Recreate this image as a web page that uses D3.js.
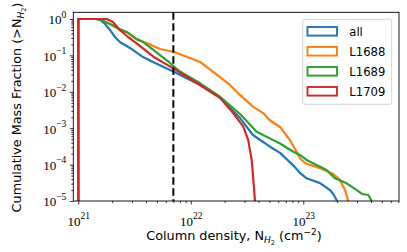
<!DOCTYPE html>
<html><head><meta charset="utf-8">
<script src="https://cdn.jsdelivr.net/npm/d3@7"></script>
<style>body{margin:0;background:#fff}svg{display:block}</style>
</head><body>
<svg id="c" width="407" height="252"></svg>
<script>
// ---- data ----
const seriesNames = ["all", "L1688", "L1689", "L1709"];
const seriesColors = ["#1f77b4", "#ff7f0e", "#2ca02c", "#d62728"];

const allN = [1e21, 1e21, 1.41e21, 1.56e21, 1.73e21, 1.91e21, 2.12e21, 2.34e21, 2.88e21, 3.76e21, 4.81e21, 6.98e21, 1.21e22, 1.82e22, 2.74e22, 3.57e22, 5.06e22, 6.21e22, 8.09e22, 9.35e22, 1.07e23, 1.41e23, 1.73e23, 1.87e23, 2.0e23];
const allF = [1e-6, 1, 1, 0.94, 0.73, 0.50, 0.32, 0.233, 0.16, 0.090, 0.062, 0.036, 0.0154, 0.0068, 0.0019, 6.5e-4, 3.1e-4, 2.1e-4, 9.7e-5, 5.9e-5, 4.2e-5, 3.1e-5, 2.0e-5, 1.46e-5, 1e-5];

const l1688N = [1e21, 1e21, 1.45e21, 1.56e21, 1.91e21, 2.34e21, 2.69e21, 3.30e21, 3.79e21, 4.06e21, 5.32e21, 6.98e21, 9.84e21, 1.21e22, 1.58e22, 2.23e22, 2.74e22, 3.57e22, 4.41e22, 5.01e22, 6.21e22, 7.62e22, 8.73e22, 9.35e22, 1.04e23, 1.41e23, 1.85e23, 2.12e23, 2.35e23, 2.51e23];
const l1688F = [1e-6, 1, 1, 0.97, 0.73, 0.52, 0.44, 0.28, 0.233, 0.22, 0.15, 0.126, 0.085, 0.066, 0.035, 0.0154, 0.0082, 0.0039, 0.0026, 0.00168, 0.00108, 4.7e-4, 2.26e-4, 1.49e-4, 1.09e-4, 7.9e-5, 5.5e-5, 3.8e-5, 2.0e-5, 1e-5];

const l1689N = [1e21, 1e21, 1.45e21, 1.56e21, 1.91e21, 2.34e21, 2.69e21, 3.30e21, 3.78e21, 4.65e21, 5.32e21, 6.53e21, 6.98e21, 8.02e21, 1.21e22, 1.82e22, 2.74e22, 3.85e22, 5.41e22, 6.21e22, 8.15e22, 9.35e22, 1.07e23, 1.41e23, 1.61e23, 1.91e23, 2.43e23, 2.99e23, 3.33e23, 3.78e23, 4.06e23];
const l1689F = [1e-6, 1, 1, 0.97, 0.73, 0.52, 0.44, 0.28, 0.233, 0.141, 0.102, 0.062, 0.051, 0.036, 0.0171, 0.0073, 0.00245, 8.0e-4, 4.7e-4, 3.8e-4, 2.26e-4, 1.84e-4, 1.34e-4, 8.7e-5, 7.1e-5, 4.2e-5, 3.06e-5, 2.0e-5, 1.56e-5, 1.46e-5, 1e-5];

const l1709N = [1e21, 1e21, 1.79e21, 2.03e21, 2.34e21, 2.77e21, 3.30e21, 4.65e21, 6.98e21, 1.21e22, 1.82e22, 2.39e22, 2.93e22, 3.24e22, 3.48e22, 3.60e22, 3.72e22];
const l1709F = [1e-6, 1, 1, 0.83, 0.50, 0.32, 0.215, 0.092, 0.044, 0.0154, 0.0068, 0.00256, 0.0011, 4.7e-4, 1.34e-4, 3.8e-5, 1e-5];

const threshold = 7e21;
const xTicks = [1e21, 1e22, 1e23];
const xTickExp = ["21", "22", "23"];
const yTicks = [1e0, 1e-1, 1e-2, 1e-3, 1e-4, 1e-5];
const yTickExp = ["0", "\u22121", "\u22122", "\u22123", "\u22124", "\u22125"];

// ---- layout ----
const svg = d3.select("#c");
const L = 73.3, R = 399, T = 12.3, B = 201;
const x = d3.scaleLog().domain([Math.pow(10, 20.9556), Math.pow(10, 23.851)]).range([L, R]);
const y = d3.scaleLog().domain([1e-5, Math.pow(10, 0.184)]).range([B, T]);

svg.append("clipPath").attr("id", "clip").append("rect")
  .attr("x", L).attr("y", T).attr("width", R - L).attr("height", B - T);

function minors(lo, hi) {
  const out = [];
  for (let e = Math.floor(Math.log10(lo)) - 1; e <= Math.ceil(Math.log10(hi)); e++)
    for (let k = 2; k <= 9; k++) { const v = k * Math.pow(10, e); if (v >= lo && v <= hi) out.push(v); }
  return out;
}
const [xlo, xhi] = x.domain(), [ylo, yhi] = y.domain();

const axStyle = g => { g.select(".domain").remove(); g.selectAll("line").attr("stroke", "#000").attr("stroke-width", 0.8); };

svg.append("g").attr("transform", `translate(0,${B})`)
  .call(d3.axisBottom(x).tickValues(minors(xlo, xhi)).tickSize(2).tickFormat("")).call(axStyle);
svg.append("g").attr("transform", `translate(${L},0)`)
  .call(d3.axisLeft(y).tickValues(minors(ylo, yhi)).tickSize(2).tickFormat("")).call(axStyle);

const xAx = svg.append("g").attr("transform", `translate(0,${B})`)
  .call(d3.axisBottom(x).tickValues(xTicks).tickSize(3.5).tickFormat("")).call(axStyle);
const yAx = svg.append("g").attr("transform", `translate(${L},0)`)
  .call(d3.axisLeft(y).tickValues(yTicks).tickSize(3.5).tickFormat("")).call(axStyle);

const serif = "'Liberation Serif','DejaVu Serif',serif";
xAx.selectAll(".tick").each(function(d, i) {
  const t = d3.select(this).append("text").attr("y", 24.5).attr("text-anchor", "middle")
    .attr("font-family", serif).attr("font-size", 13).attr("fill", "#000");
  t.append("tspan").text("10");
  t.append("tspan").attr("dy", -6.5).attr("font-size", 9.5).text(xTickExp[i]);
});
yAx.selectAll(".tick").each(function(d, i) {
  const t = d3.select(this).append("text").attr("x", -7).attr("y", 4.8).attr("text-anchor", "end")
    .attr("font-family", serif).attr("font-size", 13).attr("fill", "#000");
  t.append("tspan").text("10");
  t.append("tspan").attr("dy", -6.5).attr("font-size", 9.5).text(yTickExp[i]);
});

const line = d3.line().x(d => x(d[0])).y(d => y(d[1]));
const series = [[allN, allF], [l1688N, l1688F], [l1689N, l1689F], [l1709N, l1709F]];
const plot = svg.append("g").attr("clip-path", "url(#clip)");
series.forEach(([N, F], i) => {
  plot.append("path").datum(N.map((n, j) => [n, F[j]]))
    .attr("d", line).attr("fill", "none").attr("stroke", seriesColors[i])
    .attr("stroke-width", 2.2).attr("stroke-linejoin", "round");
});

svg.append("line").attr("x1", x(threshold)).attr("x2", x(threshold)).attr("y1", T).attr("y2", B)
  .attr("stroke", "#000").attr("stroke-width", 2).attr("stroke-dasharray", "7.5,3.5");

svg.append("rect").attr("x", L).attr("y", T).attr("width", R - L).attr("height", B - T)
  .attr("fill", "none").attr("stroke", "#000").attr("stroke-width", 0.9);

const sans = "'DejaVu Sans',sans-serif";
const lg = svg.append("g");
lg.append("rect").attr("x", 302.7).attr("y", 19.3).attr("width", 89).attr("height", 85).attr("rx", 2)
  .attr("fill", "#fff").attr("fill-opacity", 0.8).attr("stroke", "#d0d0d0").attr("stroke-width", 0.9);
seriesNames.forEach((nm, i) => {
  lg.append("rect").attr("x", 307.5).attr("y", 27 + i * 20).attr("width", 29.5).attr("height", 8.6)
    .attr("fill", "#fff").attr("stroke", seriesColors[i]).attr("stroke-width", 1.9);
  lg.append("text").attr("x", 349.3).attr("y", 35.5 + i * 20).attr("font-family", sans)
    .attr("font-size", 11.6).attr("fill", "#000").text(nm);
});

const xl = svg.append("text").attr("x", 234).attr("y", 240).attr("text-anchor", "middle")
  .attr("font-family", sans).attr("font-size", 12.8).attr("fill", "#000");
xl.append("tspan").text("Column density, N");
xl.append("tspan").attr("dy", 3).attr("font-size", 9).attr("font-style", "italic").text("H");
xl.append("tspan").attr("dy", 1.5).attr("font-size", 6.5).text("2");
xl.append("tspan").attr("dy", -4.5).text("\u00a0(cm");
xl.append("tspan").attr("dy", -5.5).attr("font-size", 9).text("\u22122");
xl.append("tspan").attr("dy", 5.5).text(")");

const yl = svg.append("text").attr("transform", "translate(21,107.5) rotate(-90)").attr("text-anchor", "middle")
  .attr("font-family", sans).attr("font-size", 12.8).attr("fill", "#000");
yl.append("tspan").text("Cumulative Mass Fraction (>N");
yl.append("tspan").attr("dy", 3).attr("font-size", 9).attr("font-style", "italic").text("H");
yl.append("tspan").attr("dy", 1.5).attr("font-size", 6.5).text("2");
yl.append("tspan").attr("dy", -4.5).text(")");
</script>
</body></html>
